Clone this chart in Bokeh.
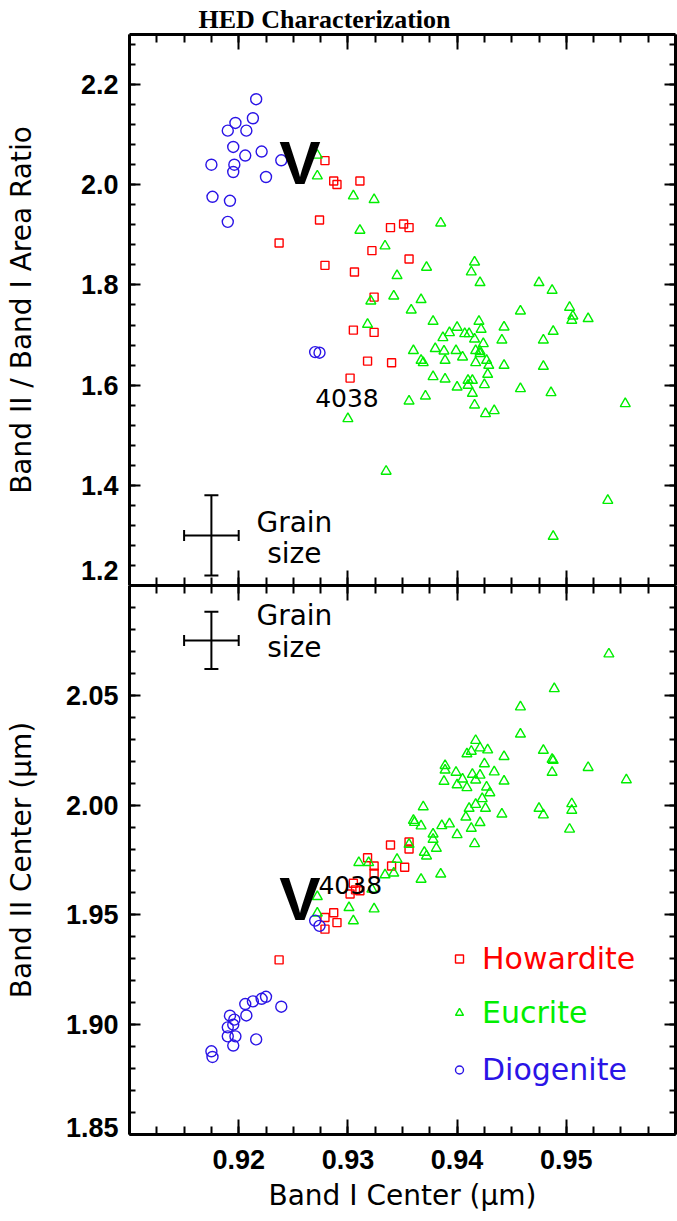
from bokeh.plotting import figure
from bokeh.models import (LinearAxis, FixedTicker, PrintfTickFormatter, Range1d, Legend,
                          LegendItem, Title, ColumnDataSource, Whisker, TeeHead)
from bokeh.layouts import column
from bokeh.core.properties import value
from bokeh.embed import file_html
from bokeh.resources import INLINE

# ---------------- data ----------------
# Diogenites (same samples in both panels)
dio_band1 = [0.9175, 0.9176, 0.9190, 0.9190, 0.9192, 0.9195, 0.9195, 0.9196, 0.9197, 0.9206,
             0.9207, 0.9213, 0.9216, 0.9221, 0.9225, 0.9239, 0.9270, 0.9274]
dio_ratio = [2.040, 1.976, 2.108, 1.926, 1.968, 2.0755, 2.0255, 2.040, 2.1234, 2.0583,
             2.108, 2.1328, 2.1708, 2.0663, 2.0155, 2.0489, 1.666, 1.6648]
dio_band2 = [1.8879, 1.8853, 1.8988, 1.8947, 1.9041, 1.9000, 1.8905, 1.9023, 1.8947, 1.9094,
             1.9042, 1.9106, 1.8933, 1.9118, 1.9127, 1.9082, 1.9474, 1.9450]

# Howardites
how_band1_top = [0.9279, 0.9287, 0.9290, 0.9311, 0.9274, 0.9237, 0.9339, 0.9351, 0.9356, 0.9322,
                 0.9356, 0.9279, 0.9306, 0.9324, 0.9305, 0.9324, 0.9318, 0.9340, 0.9302]
how_ratio = [2.0483, 2.0075, 2.0004, 2.0075, 1.9296, 1.8837, 1.9145, 1.9217, 1.9145, 1.8685,
             1.8517, 1.8391, 1.8258, 1.7758, 1.7099, 1.7053, 1.648, 1.6448, 1.614]
how_band1_bot = [0.9339, 0.9356, 0.9356, 0.9318, 0.9324, 0.9340, 0.9352, 0.9324, 0.9305, 0.9307,
                 0.9311, 0.9302, 0.9287, 0.9279, 0.9290, 0.9279, 0.9237]
how_band2 = [1.9818, 1.9832, 1.9800, 1.9760, 1.9723, 1.9723, 1.9717, 1.9690, 1.9644, 1.9614,
             1.9610, 1.9595, 1.9510, 1.9488, 1.9465, 1.9435, 1.9295]

# Eucrites
euc_band1_top = [0.9272, 0.9272, 0.9305, 0.9324, 0.9385, 0.9311, 0.9334, 0.9416, 0.9372, 0.9413,
                 0.9345, 0.9421, 0.9475, 0.9487, 0.9342, 0.9367, 0.9321, 0.9358, 0.9458, 0.9503,
                 0.9506, 0.9505, 0.9520, 0.9378, 0.9420, 0.9318, 0.9400, 0.9443, 0.9422, 0.9488,
                 0.9393, 0.9407, 0.9411, 0.9387, 0.9416, 0.9441, 0.9479, 0.9424, 0.9360, 0.9380,
                 0.9388, 0.9399, 0.9417, 0.9421, 0.9421, 0.9405, 0.9367, 0.9369, 0.9389, 0.9417,
                 0.9427, 0.9429, 0.9443, 0.9479, 0.9428, 0.9378, 0.9389, 0.9410, 0.9414, 0.9425,
                 0.9400, 0.9410, 0.9414, 0.9458, 0.9486, 0.9371, 0.9356, 0.9416, 0.9554, 0.9426,
                 0.9434, 0.9300, 0.9335, 0.9488, 0.9538]
euc_ratio = [2.0589, 2.0175, 1.9776, 1.9704, 1.9236, 1.9091, 1.8777, 1.8457, 1.8352, 1.8258,
             1.8186, 1.8046, 1.8046, 1.7892, 1.7778, 1.7706, 1.7678, 1.7499, 1.7479, 1.7553,
             1.7379, 1.7293, 1.7327, 1.7273, 1.7273, 1.7213, 1.7153, 1.7159, 1.7113, 1.7073,
             1.7047, 1.7027, 1.7027, 1.6947, 1.6919, 1.6899, 1.6899, 1.6827, 1.6688, 1.6728,
             1.6680, 1.6688, 1.6688, 1.6674, 1.6628, 1.6560, 1.6494, 1.6448, 1.6494, 1.6448,
             1.6494, 1.6394, 1.6394, 1.6374, 1.6214, 1.6168, 1.6120, 1.6094, 1.6094, 1.6008,
             1.5960, 1.5994, 1.5835, 1.5928, 1.5849, 1.5781, 1.5681, 1.5601, 1.5629, 1.5429,
             1.5489, 1.5329, 1.428, 1.298, 1.3697]
euc_band1_bot = [0.9539, 0.9489, 0.9458, 0.9458, 0.9417, 0.9479, 0.9413, 0.9421, 0.9428, 0.9409,
                 0.9443, 0.9487, 0.9488, 0.9389, 0.9389, 0.9425, 0.9399, 0.9414, 0.9421, 0.9434,
                 0.9520, 0.9487, 0.9405, 0.9417, 0.9443, 0.9555, 0.9388, 0.9400, 0.9409, 0.9427,
                 0.9430, 0.9423, 0.9417, 0.9411, 0.9426, 0.9505, 0.9505, 0.9475, 0.9479, 0.9441,
                 0.9408, 0.9369, 0.9360, 0.9361, 0.9367, 0.9386, 0.9393, 0.9421, 0.9413, 0.9503,
                 0.9400, 0.9378, 0.9378, 0.9416, 0.9356, 0.9381, 0.9370, 0.9372, 0.9345, 0.9310,
                 0.9319, 0.9334, 0.9342, 0.9367, 0.9385, 0.9322, 0.9272, 0.9301, 0.9324, 0.9272,
                 0.9305]
euc_band2 = [2.0688, 2.0530, 2.0447, 2.0323, 2.0294, 2.0249, 2.0245, 2.0260, 2.0251, 2.0233,
             2.0221, 2.0208, 2.0203, 2.0180, 2.0159, 2.0188, 2.0149, 2.0140, 2.0136, 2.0151,
             2.0171, 2.0149, 2.0118, 2.0114, 2.0109, 2.0115, 2.0108, 2.0092, 2.0079, 2.0082,
             2.0056, 2.0029, 2.0003, 1.9985, 1.9985, 2.0006, 1.9976, 1.9985, 1.9955, 1.9959,
             1.9945, 1.9992, 1.9930, 1.9921, 1.9905, 1.9906, 1.9914, 1.9920, 1.9894, 1.9890,
             1.9865, 1.9868, 1.9844, 1.9824, 1.9821, 1.9803, 1.9785, 1.9768, 1.9753, 1.9738,
             1.9738, 1.9682, 1.9690, 1.9662, 1.9686, 1.9617, 1.9583, 1.9533, 1.9527, 1.9508,
             1.9473]

# Vesta ("V") and sample 4038 annotations (anchor positions of the texts)
vesta_band1 = [0.9256]
vesta_ratio = [2.045]
vesta_band2 = [1.9574]
label_4038_top = (0.9270, 1.5735)
label_4038_bot = (0.9273, 1.9636)

# grain-size error crosses
grain_band1 = [0.9175]
grain_dband1 = 0.0025
grain_ratio = [1.30]
grain_dratio = 0.08
grain_band2 = [2.075]
grain_dband2 = 0.013
grain_text_x = 0.9251
grain_text_y_top = [1.3258, 1.2639]
grain_text_y_bot = [2.0863, 2.0718]
grain_text = ["Grain", "size"]

# axes
x_range = (0.91, 0.96)
ratio_range = (1.2, 2.3)
band2_range = (1.85, 2.10)
x_ticks = [0.92, 0.93, 0.94, 0.95]
x_minor = [round(0.91 + 0.0025 * i, 4) for i in range(21)]
ratio_ticks = [1.2, 1.4, 1.6, 1.8, 2.0, 2.2]
ratio_minor = [round(1.2 + 0.04 * i, 2) for i in range(28)]
band2_ticks = [1.85, 1.90, 1.95, 2.00, 2.05]
band2_minor = [round(1.85 + 0.01 * i, 2) for i in range(26)]
# the lowest tick label of each panel is lifted just above the frame edge
ratio_label_pos = [1.2300, 1.4, 1.6, 1.8, 2.0, 2.2]
band2_label_pos = [1.8531, 1.90, 1.95, 2.00, 2.05]

RED = "#ff0000"
GREEN = "#00ee00"
BLUE = "#2a14e6"
TICK_FONT = "Liberation Sans"
LAB_FONT = "DejaVu Sans"


def tick_axis(ticker_major, ticker_minor, is_x):
    """Axis line + inward ticks, no labels."""
    ax = LinearAxis(ticker=FixedTicker(ticks=ticker_major, minor_ticks=ticker_minor))
    ax.axis_line_width = 3
    ax.major_tick_line_width = 2
    ax.minor_tick_line_width = 2
    ax.major_tick_out = 0
    ax.minor_tick_out = 0
    ax.major_tick_in = 15 if is_x else 11
    ax.minor_tick_in = 8 if is_x else 6
    ax.major_label_text_font_size = "0px"
    ax.major_label_text_color = None
    ax.major_label_standoff = 0
    return ax


def label_axis(positions, labels, fmt, title, standoff, title_standoff):
    """Labels only (no line/ticks)."""
    ax = LinearAxis(ticker=FixedTicker(ticks=positions, minor_ticks=[]),
                    formatter=PrintfTickFormatter(format=fmt))
    ax.major_label_overrides = {p: l for p, l in zip(positions, labels)}
    ax.axis_line_color = None
    ax.major_tick_line_color = None
    ax.minor_tick_line_color = None
    ax.major_tick_out = 0
    ax.major_tick_in = 0
    ax.minor_tick_out = 0
    ax.minor_tick_in = 0
    ax.major_label_text_font = TICK_FONT
    ax.major_label_text_font_style = "bold"
    ax.major_label_text_font_size = "27px"
    ax.major_label_text_color = "black"
    ax.major_label_standoff = standoff
    ax.axis_label = title
    ax.axis_label_text_font = LAB_FONT
    ax.axis_label_text_font_style = "normal"
    ax.axis_label_text_font_size = "28px"
    ax.axis_label_text_color = "black"
    ax.axis_label_standoff = title_standoff
    return ax


# ---------------- upper panel ----------------
top = figure(width=677, height=585, x_range=Range1d(*x_range), y_range=Range1d(*ratio_range),
             x_axis_location=None, y_axis_location=None, toolbar_location=None,
             output_backend="svg", min_border_left=129, min_border_right=2,
             min_border_top=34, min_border_bottom=0, outline_line_color=None,
             background_fill_color="white", border_fill_color="white")
top.xgrid.visible = False
top.ygrid.visible = False
top.title = Title(text="HED Characterization", align="left", offset=69,
                  text_font="Liberation Serif", text_font_style="bold",
                  text_font_size="26px", text_color="black", standoff=2)

top.add_layout(tick_axis(ratio_ticks, ratio_minor, False), "left")
top.add_layout(label_axis(ratio_label_pos, ["%.1f" % t for t in ratio_ticks], "%.1f",
                          "Band II / Band I Area Ratio", 11, 40), "left")
top.add_layout(tick_axis(ratio_ticks, ratio_minor, False), "right")
top.add_layout(tick_axis(x_ticks, x_minor, True), "below")
top.add_layout(tick_axis(x_ticks, x_minor, True), "above")

top.scatter(how_band1_top, how_ratio, marker="square", size=8, fill_color=None,
            line_color=RED, line_width=1.4)
top.scatter(euc_band1_top, euc_ratio, marker="triangle", size=10, fill_color=None,
            line_color=GREEN, line_width=1.4)
top.scatter(dio_band1, dio_ratio, marker="circle", size=11, fill_color=None,
            line_color=BLUE, line_width=1.4)

top.text(vesta_band1, vesta_ratio, text=["V"], text_font=value("Liberation Sans"),
         text_font_style="bold", text_font_size="62px", text_align="center",
         text_baseline="alphabetic", text_color="black")
top.text([label_4038_top[0]], [label_4038_top[1]], text=["4038"], text_font=value(LAB_FONT),
         text_font_size="25px", text_align="left", text_baseline="alphabetic", text_color="black")
top.text([grain_text_x] * 2, grain_text_y_top, text=grain_text, text_font=value(LAB_FONT),
         text_font_size="28px", text_align="center", text_baseline="alphabetic", text_color="black")

gs_top = ColumnDataSource(dict(x=grain_band1, y=grain_ratio,
                               xlo=[grain_band1[0] - grain_dband1], xhi=[grain_band1[0] + grain_dband1],
                               ylo=[grain_ratio[0] - grain_dratio], yhi=[grain_ratio[0] + grain_dratio]))
top.add_layout(Whisker(source=gs_top, base="x", lower="ylo", upper="yhi", dimension="height",
                       line_width=2, line_color="black",
                       upper_head=TeeHead(size=14, line_width=2), lower_head=TeeHead(size=14, line_width=2)))
top.add_layout(Whisker(source=gs_top, base="y", lower="xlo", upper="xhi", dimension="width",
                       line_width=2, line_color="black",
                       upper_head=TeeHead(size=11, line_width=2), lower_head=TeeHead(size=11, line_width=2)))

# ---------------- lower panel ----------------
bot = figure(width=677, height=636, x_range=Range1d(*x_range), y_range=Range1d(*band2_range),
             x_axis_location=None, y_axis_location=None, toolbar_location=None,
             output_backend="svg", min_border_left=129, min_border_right=2,
             min_border_top=0, min_border_bottom=87, outline_line_color=None,
             background_fill_color="white", border_fill_color="white")
bot.xgrid.visible = False
bot.ygrid.visible = False

bot.add_layout(tick_axis(band2_ticks, band2_minor, False), "left")
bot.add_layout(label_axis(band2_label_pos, ["%.2f" % t for t in band2_ticks], "%.2f",
                          "Band II Center (μm)", 11, 25), "left")
bot.add_layout(tick_axis(band2_ticks, band2_minor, False), "right")
bot.add_layout(tick_axis(x_ticks, x_minor, True), "above")

xax = LinearAxis(ticker=FixedTicker(ticks=x_ticks, minor_ticks=x_minor),
                 formatter=PrintfTickFormatter(format="%.2f"))
xax.axis_line_width = 3
xax.major_tick_line_width = 2
xax.minor_tick_line_width = 2
xax.major_tick_out = 0
xax.minor_tick_out = 0
xax.major_tick_in = 15
xax.minor_tick_in = 8
xax.major_label_text_font = TICK_FONT
xax.major_label_text_font_style = "bold"
xax.major_label_text_font_size = "27px"
xax.major_label_text_color = "black"
xax.major_label_standoff = 15
xax.axis_label = "Band I Center (μm)"
xax.axis_label_text_font = LAB_FONT
xax.axis_label_text_font_style = "normal"
xax.axis_label_text_font_size = "28px"
xax.axis_label_text_color = "black"
xax.axis_label_standoff = 7
bot.add_layout(xax, "below")

r_how = bot.scatter(how_band1_bot, how_band2, marker="square", size=8, fill_color=None,
                    line_color=RED, line_width=1.4)
r_euc = bot.scatter(euc_band1_bot, euc_band2, marker="triangle", size=10, fill_color=None,
                    line_color=GREEN, line_width=1.4)
r_dio = bot.scatter(dio_band1, dio_band2, marker="circle", size=11, fill_color=None,
                    line_color=BLUE, line_width=1.4)

bot.text(vesta_band1, vesta_band2, text=["V"], text_font=value("Liberation Sans"),
         text_font_style="bold", text_font_size="62px", text_align="center",
         text_baseline="alphabetic", text_color="black")
bot.text([label_4038_bot[0]], [label_4038_bot[1]], text=["4038"], text_font=value(LAB_FONT),
         text_font_size="25px", text_align="left", text_baseline="alphabetic", text_color="black")
bot.text([grain_text_x] * 2, grain_text_y_bot, text=grain_text, text_font=value(LAB_FONT),
         text_font_size="28px", text_align="center", text_baseline="alphabetic", text_color="black")

gs_bot = ColumnDataSource(dict(x=grain_band1, y=grain_band2,
                               xlo=[grain_band1[0] - grain_dband1], xhi=[grain_band1[0] + grain_dband1],
                               ylo=[grain_band2[0] - grain_dband2], yhi=[grain_band2[0] + grain_dband2]))
bot.add_layout(Whisker(source=gs_bot, base="x", lower="ylo", upper="yhi", dimension="height",
                       line_width=2, line_color="black",
                       upper_head=TeeHead(size=14, line_width=2), lower_head=TeeHead(size=14, line_width=2)))
bot.add_layout(Whisker(source=gs_bot, base="y", lower="xlo", upper="xhi", dimension="width",
                       line_width=2, line_color="black",
                       upper_head=TeeHead(size=11, line_width=2), lower_head=TeeHead(size=11, line_width=2)))

legend_entries = [("Howardite", r_how, RED, 158), ("Eucrite", r_euc, GREEN, 104),
                  ("Diogenite", r_dio, BLUE, 47)]
for name, rend, color, ypos in legend_entries:
    leg = Legend(items=[LegendItem(label=name, renderers=[rend])], location=(320, ypos),
                 label_text_color=color, label_text_font=LAB_FONT, label_text_font_size="30px",
                 border_line_alpha=0, background_fill_alpha=0, padding=0, margin=0,
                 glyph_width=20, glyph_height=35, label_standoff=13, label_height=35)
    bot.add_layout(leg)

layout = column(top, bot, spacing=0)
open("out.html", "w").write(file_html(layout, INLINE))
